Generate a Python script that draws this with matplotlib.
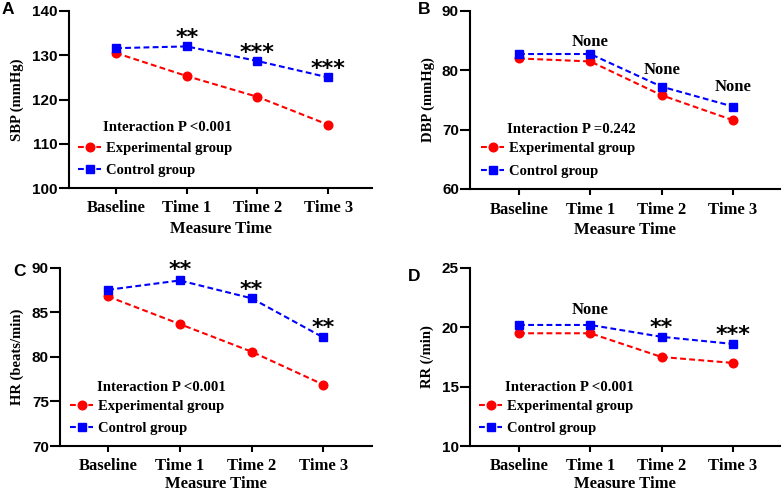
import matplotlib
matplotlib.use("Agg")
import matplotlib.pyplot as plt

# ---------------- data ----------------
times = ["Baseline", "Time 1", "Time 2", "Time 3"]

sbp_exp = [130.5, 125.3, 120.6, 114.3]
sbp_ctl = [131.6, 132.0, 128.7, 125.0]
dbp_exp = [82.0, 81.5, 75.8, 71.6]
dbp_ctl = [82.75, 82.75, 77.25, 73.9]
hr_exp = [86.8, 83.7, 80.6, 76.9]
hr_ctl = [87.55, 88.6, 86.6, 82.2]
rr_exp = [19.5, 19.5, 17.5, 17.0]
rr_ctl = [20.2, 20.2, 19.2, 18.6]

sbp_sig = ["", "**", "***", "***"]
dbp_sig = ["", "None", "None", "None"]
hr_sig = ["", "**", "**", "**"]
rr_sig = ["", "None", "**", "***"]

interaction = ["Interaction P <0.001", "Interaction P =0.242",
               "Interaction P <0.001", "Interaction P <0.001"]
ylabels = ["SBP (mmHg)", "DBP (mmHg)", "HR (beats/min)", "RR (/min)"]
ylims = [(100, 140), (60, 90), (70, 90), (10, 25)]
yticks = [[100, 110, 120, 130, 140], [60, 70, 80, 90],
          [70, 75, 80, 85, 90], [10, 15, 20, 25]]
letters = ["A", "B", "C", "D"]
series_names = ["Experimental group", "Control group"]

# ---------------- style / layout ----------------
W, H = 783, 492
fig = plt.figure(figsize=(W / 100, H / 100), dpi=100)

SERIF = "Liberation Serif"
SANS = "Liberation Sans"

# axes rectangles in pixels: left, top, right, bottom
rects = [(69, 11, 372, 188), (470, 11, 780, 189),
         (60, 268, 372, 446), (470, 268, 780, 446)]
xlims = [(-0.665, 3.62), (-0.687, 3.66), (-0.67, 3.68), (-0.687, 3.66)]
ylabel_x = [-0.172, -0.135, -0.138, -0.139]
xlabel_pad = [3, 3, 0.8, 0.8]
title_pos = [(0.112, 0.339), (0.119, 0.337), (0.119, 0.331), (0.113, 0.331)]
leg_pos = [(0.030, 0.161), (0.035, 0.163), (0.032, 0.160), (0.029, 0.160)]
letter_pos = [(2, 2), (418, 2), (13, 264), (408, 269)]
# baseline offsets (points) for significance labels, above control point
annot_dy = [[0, 1.8, 1.8, 1.8], [0, 5.6, 8.9, 11.1],
            [0, 3.0, 1.5, 2.5], [0, 7.9, 2.3, 2.0]]

panels = [(sbp_exp, sbp_ctl, sbp_sig), (dbp_exp, dbp_ctl, dbp_sig),
          (hr_exp, hr_ctl, hr_sig), (rr_exp, rr_ctl, rr_sig)]

RED = "#FF0000"
BLUE = "#0000FF"
dash = (0, (2.8, 1.6))

for k, (exp, ctl, sig) in enumerate(panels):
    l, t, r, b = rects[k]
    ax = fig.add_axes([l / W, 1 - b / H, (r - l) / W, (b - t) / H])
    x = list(range(len(times)))
    le, = ax.plot(x, exp, color=RED, linestyle=dash, linewidth=1.5,
                  marker="o", markersize=6.2, label=series_names[0],
                  clip_on=False, zorder=3)
    lc, = ax.plot(x, ctl, color=BLUE, linestyle=dash, linewidth=1.5,
                  marker="s", markersize=5.6, label=series_names[1],
                  clip_on=False, zorder=4)
    ax.set_xlim(*xlims[k])
    ax.set_ylim(*ylims[k])
    ax.set_xticks(x)
    ax.set_xticklabels(times, fontfamily=SERIF, fontweight="bold", fontsize=12)
    ax.set_yticks(yticks[k])
    ax.set_yticklabels([str(v) for v in yticks[k]], fontfamily=SANS,
                       fontweight="bold", fontsize=11)
    for s in ["top", "right"]:
        ax.spines[s].set_visible(False)
    for s in ["left", "bottom"]:
        ax.spines[s].set_linewidth(1.5)
    ax.tick_params(axis="y", direction="out", length=7, width=1.5, pad=1)
    ax.tick_params(axis="x", direction="out", length=4.5, width=1.5, pad=4.5)

    ax.text(ylabel_x[k], 0.5, ylabels[k], rotation=90, transform=ax.transAxes,
            ha="center", va="center", fontfamily=SERIF, fontweight="bold",
            fontsize=10.5)
    ax.set_xlabel("Measure Time", fontfamily=SERIF, fontweight="bold",
                  fontsize=12, labelpad=xlabel_pad[k])

    for i, s in enumerate(sig):
        if not s:
            continue
        if s == "None":
            ax.annotate(s, xy=(i, ctl[i]), xytext=(0, annot_dy[k][i]),
                        textcoords="offset points", ha="center", va="baseline",
                        fontfamily=SERIF, fontweight="bold", fontsize=12)
        else:
            ax.annotate(s, xy=(i, ctl[i]), xytext=(0, annot_dy[k][i]),
                        textcoords="offset points", ha="center", va="baseline",
                        fontfamily="DejaVu Sans", fontweight="bold", fontsize=16)

    tx, ty = title_pos[k]
    ax.text(tx, ty, interaction[k], transform=ax.transAxes, ha="left",
            va="center", fontfamily=SERIF, fontweight="bold", fontsize=10.7)
    lx, ly = leg_pos[k]
    ax.legend(handles=[le, lc], loc="center left", bbox_to_anchor=(lx, ly),
              frameon=False, borderpad=0, borderaxespad=0, handlelength=1.6,
              handletextpad=0.33, labelspacing=0.62, numpoints=1,
              prop={"family": SERIF, "weight": "bold", "size": 10.5})

    px, py = letter_pos[k]
    fig.text(px / W, 1 - py / H, letters[k], ha="left", va="top",
             fontfamily=SANS, fontweight="bold", fontsize=12.5)

fig.savefig("out.png", dpi=100)
